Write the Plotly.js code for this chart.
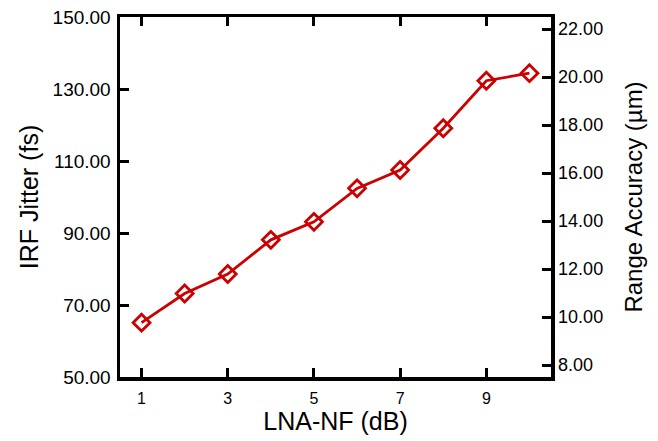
<!DOCTYPE html>
<html>
<head>
<meta charset="utf-8">
<script src="https://cdn.plot.ly/plotly-3.0.1.min.js"></script>
<style>html,body{margin:0;padding:0;background:#fff}#chart{width:658px;height:441px}</style>
</head>
<body>
<div id="chart"></div>
<script>
const lnaNF = [1, 2, 3, 4, 5, 6, 7, 8, 9, 10];
const irfJitter = [65.1, 73.2, 78.6, 88.1, 93.1, 102.4, 107.5, 119.1, 132.3, 134.4];
const rangeAccuracy = [9.76, 10.99, 11.79, 13.21, 13.97, 15.36, 16.13, 17.86, 19.85, 20.15];
const xTicks = [1, 3, 5, 7, 9];
const leftTicks = [50, 70, 90, 110, 130, 150];
const rightTicks = [8, 10, 12, 14, 16, 18, 20, 22];

const red = '#cc0000';
const font = 'Liberation Sans, Arial, sans-serif';

const traces = [
  {
    x: lnaNF, y: irfJitter, type: 'scatter', mode: 'lines+markers',
    line: {color: red, width: 2.8},
    marker: {symbol: 'diamond-open', size: 13, color: red, line: {color: red, width: 2.8}},
    hoverinfo: 'skip', showlegend: false, cliponaxis: false
  },
  {
    x: lnaNF, y: rangeAccuracy, type: 'scatter', mode: 'lines', yaxis: 'y2',
    line: {color: 'rgba(0,0,0,0)', width: 0},
    hoverinfo: 'skip', showlegend: false
  }
];

const layout = {
  width: 658, height: 441,
  margin: {l: 120, r: 107, t: 17, b: 64},
  paper_bgcolor: '#fff', plot_bgcolor: '#fff',
  font: {family: font, color: '#000'},
  xaxis: {
    range: [0.5, 10.5], tickvals: xTicks, ticktext: xTicks.map(String),
    ticks: 'inside', ticklen: 9, tickwidth: 3, tickcolor: '#000',
    showline: true, linewidth: 3.5, linecolor: '#000', mirror: 'ticks',
    showgrid: false, zeroline: false, ticklabelstandoff: 4,
    tickfont: {size: 16, family: font},
    title: {text: 'LNA-NF (dB)', font: {size: 25, family: font}, standoff: 8}
  },
  yaxis: {
    range: [50, 150], tickvals: leftTicks, ticktext: leftTicks.map(v => v.toFixed(2)),
    ticks: 'inside', ticklen: 9, tickwidth: 3, tickcolor: '#000',
    showline: true, linewidth: 3.5, linecolor: '#000', mirror: true,
    showgrid: false, zeroline: false, ticklabelstandoff: 2,
    tickfont: {size: 19, family: font},
    title: {text: 'IRF Jitter (fs)', font: {size: 25, family: font}, standoff: 8}
  },
  yaxis2: {
    overlaying: 'y', side: 'right',
    range: [7.5, 22.5], tickvals: rightTicks, ticktext: rightTicks.map(v => v.toFixed(2)),
    ticks: 'inside', ticklen: 9, tickwidth: 3, tickcolor: '#000',
    showline: true, linewidth: 3.5, linecolor: '#000',
    showgrid: false, zeroline: false,
    tickfont: {size: 18, family: font},
    title: {text: 'Range Accuracy (µm)', font: {size: 24, family: font}, standoff: 24}
  }
};

Plotly.newPlot('chart', traces, layout, {displayModeBar: false, staticPlot: true});
</script>
</body>
</html>
